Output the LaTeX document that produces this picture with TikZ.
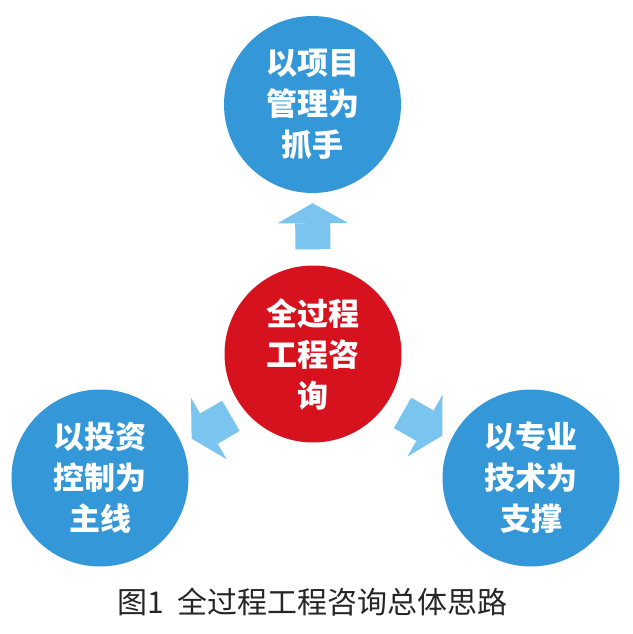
\documentclass[tikz,border=0pt]{standalone}
\usepackage{fontspec}
\newfontfamily\cjk{Noto Sans CJK SC}
\usepackage{tikz}
\usetikzlibrary{arrows.meta, calc, positioning}

\definecolor{kreisblau}{RGB}{52,152,216}
\definecolor{kreisrot}{RGB}{214,18,30}
\definecolor{pfeilblau}{RGB}{122,196,240}

\begin{document}
\begin{tikzpicture}[x=1pt, y=-1pt,
                bluecircle/.style={circle, fill=kreisblau, minimum size=177pt, inner sep=0pt, text=white, align=center, font=\cjk\bfseries\fontsize{31}{41}\selectfont},
                redcircle/.style={bluecircle, fill=kreisrot},
                blockarrow/.style={draw=pfeilblau, line width=35pt, -{Triangle[length=20pt, width=71pt, line width=0pt]}},
                caption/.style={font=\cjk\fontsize{30}{36}\selectfont, text=black!85}
            ]
            \useasboundingbox (0,0) rectangle (632,634);

            % Kreise
            \node[redcircle] (Z) at (313,354) {全过程\\工程咨\\询};
            \node[bluecircle] (P) at (312.5,104.5) {以项目\\管理为\\抓手};
            \node[bluecircle] (L) at (100,478) {以投资\\控制为\\主线};
            \node[bluecircle] (R) at (531,478) {以专业\\技术为\\支撑};

            % Pfeile vom Zentrum nach aussen
            \draw[blockarrow, shorten <=16pt, shorten >=10pt] (Z.north) -- (P.south);
            \draw[blockarrow, shorten <=95pt, shorten >=106pt] ([yshift=-14pt]Z.center) -- ([yshift=-14pt]L.center);
            \draw[blockarrow, shorten <=103pt, shorten >=102pt] ([yshift=-8pt]Z.center) -- ([yshift=-8pt]R.center);

            % Bildunterschrift
            \node[caption] (T) at (312.5,602) {图1\hspace{14pt}全过程工程咨询总体思路};

        \end{tikzpicture}
\end{document}
